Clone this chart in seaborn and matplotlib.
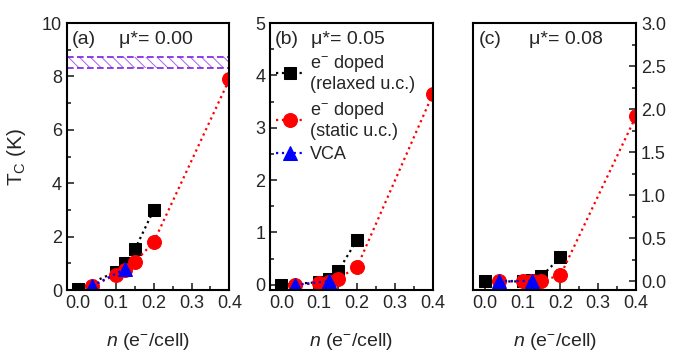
import numpy as np
import pandas as pd
import matplotlib
matplotlib.use("Agg")
import matplotlib.pyplot as plt
from matplotlib.ticker import MultipleLocator, FormatStrFormatter
import seaborn as sns

# Data
n_relaxed = [0.0, 0.1, 0.125, 0.15, 0.2]
n_static = [0.037, 0.1, 0.125, 0.15, 0.2, 0.4]
n_vca = [0.037, 0.125]

tc_relaxed = {"a": [0.05, 0.68, 1.03, 1.52, 3.0],
              "b": [0.0, 0.05, 0.12, 0.26, 0.86],
              "c": [0.0, 0.0, 0.02, 0.06, 0.28]}
tc_static = {"a": [0.15, 0.57, 0.74, 1.05, 1.8, 7.9],
             "b": [0.0, 0.03, 0.05, 0.12, 0.34, 3.64],
             "c": [0.0, 0.0, 0.0, 0.01, 0.07, 1.92]}
tc_vca = {"a": [0.15, 0.8],
          "b": [0.0, 0.07],
          "c": [0.0, 0.0]}

panels = ["a", "b", "c"]
mu_labels = ["0.00", "0.05", "0.08"]
ylims = [(0, 10), (-0.1, 5), (-0.1, 3.0)]
ymajor = [2, 1, 0.5]
yminor = [1, 0.5, 0.25]
mu_x = [0.32, 0.25, 0.34]
exp_band = (8.3, 8.73)

sns.set_theme(style="ticks")
plt.rcParams["font.family"] = ["Liberation Sans", "DejaVu Sans"]
plt.rcParams["mathtext.fontset"] = "custom"
plt.rcParams["mathtext.rm"] = "Liberation Sans"
plt.rcParams["mathtext.it"] = "Liberation Sans:italic"
plt.rcParams["hatch.color"] = "#a860f0"
plt.rcParams["hatch.linewidth"] = 0.7

fig, axes = plt.subplots(1, 3, figsize=(6.81, 3.55), dpi=100)
fig.subplots_adjust(left=0.098, right=0.934, top=0.935, bottom=0.183, wspace=0.25)

for i, (ax, p) in enumerate(zip(axes, panels)):
    d1 = pd.DataFrame({"n": n_relaxed, "tc": tc_relaxed[p]})
    d2 = pd.DataFrame({"n": n_static, "tc": tc_static[p]})
    d3 = pd.DataFrame({"n": n_vca, "tc": tc_vca[p]})
    sns.lineplot(data=d1, x="n", y="tc", ax=ax, color="black", marker="s", markersize=8.5,
                 markeredgecolor="black", linestyle=":", linewidth=1.6, estimator=None,
                 sort=False, label="e$^{-}$ doped\n(relaxed u.c.)")
    sns.lineplot(data=d2, x="n", y="tc", ax=ax, color="red", marker="o", markersize=10,
                 markeredgecolor="red", linestyle=":", linewidth=1.6, estimator=None,
                 sort=False, label="e$^{-}$ doped\n(static u.c.)")
    sns.lineplot(data=d3, x="n", y="tc", ax=ax, color="blue", marker="^", markersize=10,
                 markeredgecolor="blue", linestyle=":", linewidth=1.6, estimator=None,
                 sort=False, label="VCA")

    ax.set_xlim(-0.03, 0.4)
    ax.set_ylim(*ylims[i])
    ax.xaxis.set_major_locator(MultipleLocator(0.1))
    ax.xaxis.set_minor_locator(MultipleLocator(0.05))
    ax.yaxis.set_major_locator(MultipleLocator(ymajor[i]))
    ax.yaxis.set_minor_locator(MultipleLocator(yminor[i]))
    ax.tick_params(which="both", direction="in", labelsize=13, width=1.2)
    ax.tick_params(which="major", length=5)
    ax.tick_params(which="minor", length=3)
    ax.xaxis.set_major_formatter(FormatStrFormatter("%.1f"))
    for s in ax.spines.values():
        s.set_linewidth(1.5)
        s.set_color("black")
    ax.set_xlabel("$n$ (e$^{-}$/cell)", fontsize=14, labelpad=14)
    ax.set_ylabel("")
    ax.text(0.03, 0.97, f"({p})", transform=ax.transAxes, fontsize=14, va="top", ha="left")
    ax.text(mu_x[i], 0.97, f"\u03bc*= {mu_labels[i]}",
            transform=ax.transAxes, fontsize=14, va="top", ha="left")
    if p == "c":
        ax.yaxis.tick_right()
        ax.yaxis.set_major_formatter(FormatStrFormatter("%.1f"))
    if p == "b":
        ax.legend(loc="upper left", bbox_to_anchor=(-0.03, 0.93), frameon=False,
                  fontsize=13, handlelength=1.6, handletextpad=0.3, labelspacing=0.35,
                  borderaxespad=0.2)
    else:
        ax.get_legend().remove()

axes[0].axhspan(exp_band[0], exp_band[1], facecolor="none", hatch="\\\\\\",
                edgecolor="#a860f0", linewidth=0)
for yv in exp_band:
    axes[0].axhline(yv, color="#7a1ee6", linestyle=(0, (4, 2)), linewidth=1.2)

axes[0].set_ylabel("T$_\\mathrm{C}$ (K)", fontsize=15, labelpad=10)

plt.savefig("out.png", dpi=100)
